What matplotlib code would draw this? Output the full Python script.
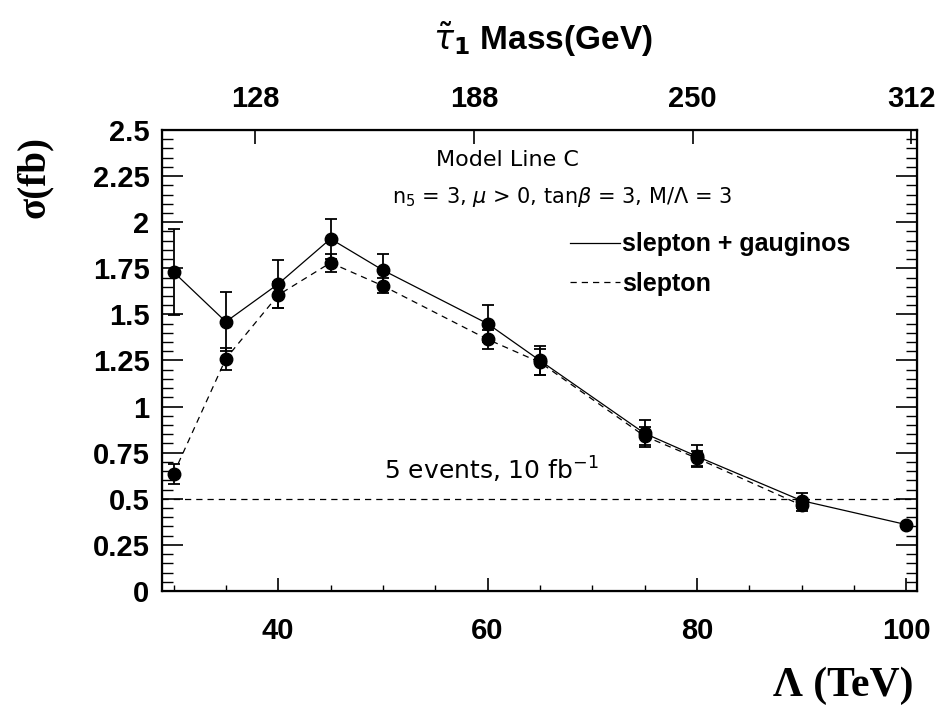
import matplotlib
matplotlib.use("Agg")
import matplotlib.pyplot as plt
from matplotlib.lines import Line2D
from matplotlib.ticker import MultipleLocator

# Data
lam = [30, 35, 40, 45, 50, 60, 65, 75, 80, 90, 100]
sig_total = [1.73, 1.46, 1.665, 1.91, 1.74, 1.45, 1.25, 0.855, 0.73, 0.49, 0.36]
err_total = [0.235, 0.16, 0.13, 0.11, 0.09, 0.10, 0.08, 0.075, 0.06, 0.04, 0.0]

lam_slep = [30, 35, 40, 45, 50, 60, 65, 75, 80, 90]
sig_slep = [0.635, 1.26, 1.605, 1.78, 1.655, 1.365, 1.24, 0.84, 0.72, 0.465]
err_slep = [0.055, 0.06, 0.07, 0.05, 0.04, 0.05, 0.07, 0.05, 0.04, 0.03]

limit_5ev = 0.5

# upper axis: stau mass labels at these Lambda positions
stau_tick_lambda = [37.8, 58.7, 79.6, 100.5]
stau_mass_labels = ["128", "188", "250", "312"]

plt.rcParams["font.family"] = ["Liberation Sans", "DejaVu Sans"]
plt.rcParams["mathtext.fontset"] = "dejavusans"

fig = plt.figure(figsize=(9.43, 7.14), dpi=100)
ax = fig.add_axes([0.1718, 0.1723, 0.8003, 0.6456])

dash = (0, (5, 4))
ax.errorbar(lam, sig_total, yerr=err_total, color="black", lw=0.9, marker="o",
            ms=9, capsize=4.5, elinewidth=1.3, capthick=1.3)
ax.errorbar(lam_slep, sig_slep, yerr=err_slep, color="black", lw=0.9, ls=dash,
            marker="o", ms=9, capsize=4.5, elinewidth=1.3, capthick=1.3)
ax.axhline(limit_5ev, color="black", lw=0.9, ls=dash)

ax.set_xlim(28.9, 101)
ax.set_ylim(0, 2.5)
ax.xaxis.set_major_locator(MultipleLocator(20))
ax.xaxis.set_minor_locator(MultipleLocator(5))
ax.yaxis.set_minor_locator(MultipleLocator(0.05))
ax.set_yticks([0, 0.25, 0.5, 0.75, 1, 1.25, 1.5, 1.75, 2, 2.25, 2.5])
ax.set_yticklabels(["0", "0.25", "0.5", "0.75", "1", "1.25", "1.5", "1.75", "2", "2.25", "2.5"])

ax.tick_params(axis="x", which="both", direction="in", top=False, bottom=True,
               labelsize=21, pad=19)
ax.tick_params(axis="x", which="major", length=9.5, width=1.2)
ax.tick_params(axis="x", which="minor", length=4.5, width=1.0)
ax.tick_params(axis="y", which="both", direction="in", left=True, right=True,
               labelsize=21, pad=9)
ax.tick_params(axis="y", which="major", length=15, width=1.2)
ax.tick_params(axis="y", which="minor", length=8, width=1.0)
for lab in ax.get_xticklabels() + ax.get_yticklabels():
    lab.set_fontweight("bold")
for sp in ax.spines.values():
    sp.set_linewidth(1.6)

# top axis with stau mass
top = ax.twiny()
top.set_xlim(ax.get_xlim())
top.set_xticks(stau_tick_lambda)
top.set_xticklabels(stau_mass_labels, fontweight="bold")
top.tick_params(axis="x", direction="in", length=10, width=1.2, labelsize=21, pad=12)

# texts inside the frame
ax.text(0.458, 0.935, "Model Line C", transform=ax.transAxes, ha="center",
        va="center", fontsize=16, family="DejaVu Sans")
ax.text(0.53, 0.855, r"n$_5$ = 3, $\mu$ > 0, tan$\beta$ = 3, M/$\Lambda$ = 3",
        transform=ax.transAxes, ha="center", va="center", fontsize=15,
        family="DejaVu Sans")
ax.text(0.436, 0.262, r"5 events, 10 fb$^{-1}$", transform=ax.transAxes,
        ha="center", va="center", fontsize=18, family="DejaVu Sans")

handles = [Line2D([], [], color="black", lw=0.9),
           Line2D([], [], color="black", lw=0.9, ls=dash)]
ax.legend(handles, ["slepton + gauginos", "slepton"], loc="upper left",
          bbox_to_anchor=(0.54, 0.778), frameon=False,
          prop={"weight": "bold", "size": 18}, handlelength=2.0,
          handletextpad=0.1, labelspacing=0.62, borderpad=0, borderaxespad=0)

# axis titles
fig.text(0.576, 0.945, r"$\tilde{\tau}_{\mathbf{1}}$ Mass(GeV)", ha="center",
         va="center", fontsize=24, fontweight="bold")
fig.text(0.894, 0.04, "Λ (TeV)", ha="center", va="center",
         fontsize=30, fontweight="bold", family="Liberation Serif")
fig.text(0.036, 0.752, "σ(fb)", ha="center", va="center",
         fontsize=28, fontweight="bold", family="Liberation Serif", rotation=90)

fig.savefig("out.png", dpi=100)
